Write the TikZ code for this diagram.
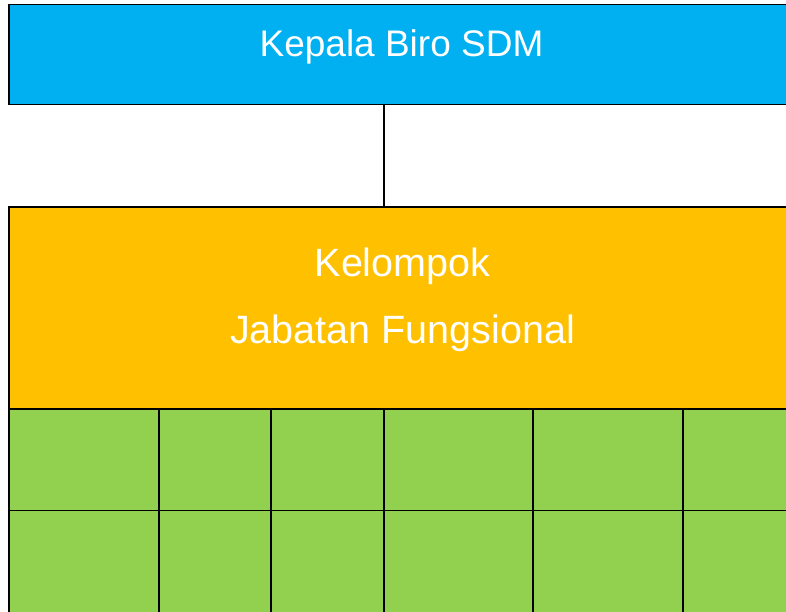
\documentclass[tikz,border=0pt]{standalone}
\usepackage{fontspec}
\setmainfont{Liberation Sans}
\definecolor{sdmblue}{HTML}{00B0F0}
\definecolor{sdmorange}{HTML}{FFC000}
\definecolor{sdmgreen}{HTML}{92D050}
\tikzset{
  box/.style={draw=black, line width=1.8pt, rectangle, inner sep=0pt, outer sep=0pt, anchor=north west},
  lbl/.style={text=white, inner sep=0pt},
  link/.style={draw=black, line width=1.8pt}
}
\begin{document}
\begin{tikzpicture}[x=1pt,y=-1pt]
\clip (0,0) rectangle (786,611);
\fill[white] (0,0) rectangle (786,611);
% top box
\node[box, fill=sdmblue, minimum width=786pt, minimum height=100pt] (head) at (9,4.5) {};
\node[lbl, anchor=base, font=\fontsize{37}{44}\selectfont] (headtxt) at (401.5,56) {Kepala Biro SDM};
% orange box
\node[box, fill=sdmorange, minimum width=786pt, minimum height=202.3pt] (kjf) at (9,206.7) {};
\node[lbl, anchor=base, font=\fontsize{39.5}{47}\selectfont] (kjf1) at (402.5,276.7) {Kelompok};
\node[lbl, anchor=base, font=\fontsize{39.5}{47}\selectfont] (kjf2) at (402.5,343) {Jabatan Fungsional};
% connector
\draw[link] (head.south -| 384,0) coordinate (ca) -- (kjf.north -| 384,0) coordinate (cb);
% green grid
\foreach \r/\y/\h in {1/409/101.5, 2/510.5/110}{
  \foreach \c/\x/\w in {1/9/150, 2/159/112, 3/271/113, 4/384/149, 5/533/150, 6/683/150}{
    \node[box, fill=sdmgreen, minimum width=\w pt, minimum height=\h pt] (cell-\r-\c) at (\x,\y) {};
  }
}
\end{tikzpicture}
\end{document}
